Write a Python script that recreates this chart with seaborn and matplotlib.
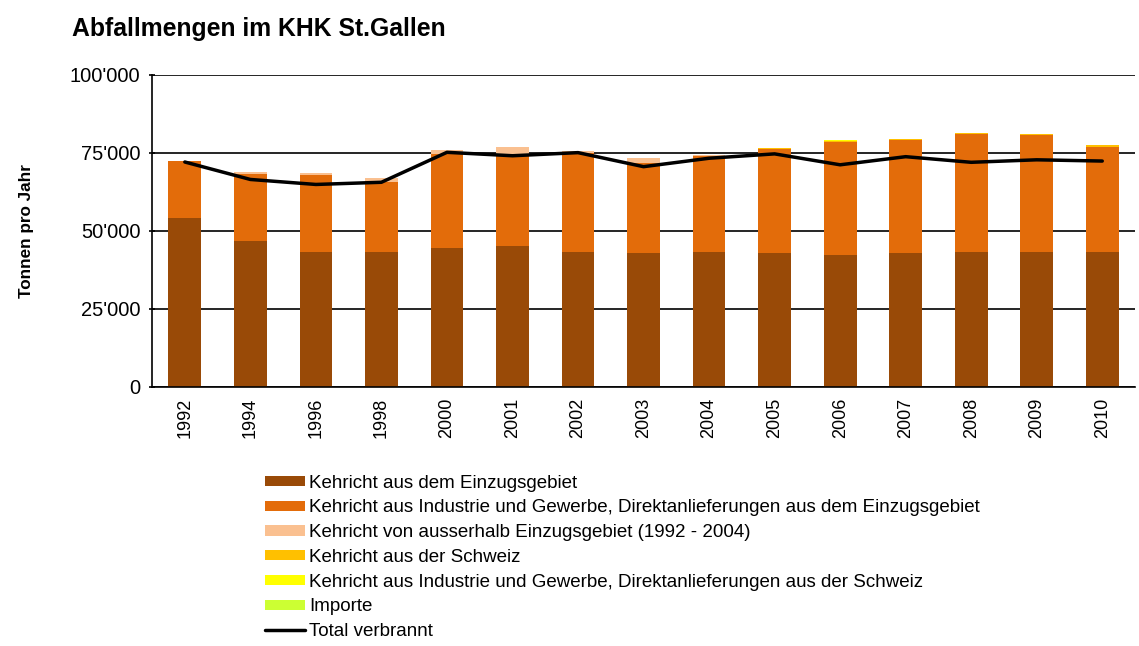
import matplotlib
matplotlib.use("Agg")
import matplotlib.pyplot as plt
import matplotlib.ticker as mticker
from matplotlib.patches import Patch
from matplotlib.lines import Line2D
import numpy as np
import pandas as pd
import seaborn as sns

# data, in tonnes per year
years = ["1992", "1994", "1996", "1998", "2000", "2001", "2002", "2003",
         "2004", "2005", "2006", "2007", "2008", "2009", "2010"]
einzug = [54300, 46900, 43300, 43300, 44600, 45300, 43300, 42800,
          43300, 42800, 42300, 42800, 43300, 43300, 43300]
industrie = [18100, 21400, 24700, 22500, 30100, 28700, 31800, 28900,
             30700, 33400, 36200, 36200, 37700, 37300, 33700]
ausserhalb = [0, 500, 500, 1100, 1300, 3000, 400, 1700,
              400, 0, 0, 0, 0, 0, 0]
schweiz = [0, 0, 0, 0, 0, 0, 0, 0, 0, 400, 400, 350, 350, 350, 400]
industrie_ch = [0, 0, 0, 0, 0, 0, 0, 0, 0, 100, 100, 150, 150, 150, 150]
importe = [0] * 15
total = [72100, 66500, 64900, 65600, 75200, 74100, 75100, 70600,
         73300, 74700, 71200, 73800, 72000, 72800, 72400]

labels = ["Kehricht aus dem Einzugsgebiet",
          "Kehricht aus Industrie und Gewerbe, Direktanlieferungen aus dem Einzugsgebiet",
          "Kehricht von ausserhalb Einzugsgebiet (1992 - 2004)",
          "Kehricht aus der Schweiz",
          "Kehricht aus Industrie und Gewerbe, Direktanlieferungen aus der Schweiz",
          "Importe"]
colors = ["#994A07", "#E36C0A", "#FAC090", "#FFC000", "#FFFF00", "#CCFF33"]

layers = [einzug, industrie, ausserhalb, schweiz, industrie_ch, importe]
cum = np.cumsum(np.array(layers, dtype=float), axis=0)

sns.set_style("white")
plt.rcParams["font.family"] = ["Liberation Sans", "DejaVu Sans"]
plt.rcParams["text.color"] = "black"
plt.rcParams["xtick.color"] = "black"
plt.rcParams["ytick.color"] = "black"
plt.rcParams["axes.labelcolor"] = "black"

fig = plt.figure(figsize=(11.39, 6.46), dpi=100)
ax = fig.add_axes([0.1335, 0.401, 0.863, 0.483])

# stacked bars: draw the cumulative heights from the top layer down
for i in range(len(layers) - 1, -1, -1):
    df = pd.DataFrame({"year": years, "value": cum[i]})
    sns.barplot(data=df, x="year", y="value", color=colors[i], width=0.5,
                saturation=1, linewidth=0, ax=ax, zorder=2)

line_df = pd.DataFrame({"year": years, "total": total})
sns.lineplot(data=line_df, x="year", y="total", color="black", linewidth=2.5,
             ax=ax, zorder=4)

ax.set_ylim(0, 100000)
ax.set_xlim(-0.5, len(years) - 0.5)
ax.yaxis.set_major_locator(mticker.MultipleLocator(25000))
ax.yaxis.set_major_formatter(
    mticker.FuncFormatter(lambda v, p: f"{int(v):,}".replace(",", "'")))
ax.grid(axis="y", color="black", linewidth=1.2, zorder=1)
ax.set_axisbelow(True)

for s in ["top", "right"]:
    ax.spines[s].set_visible(False)
ax.spines["left"].set_color("black")
ax.spines["bottom"].set_color("black")
ax.spines["left"].set_linewidth(1.2)
ax.spines["bottom"].set_linewidth(1.2)

# x ticks between the categories, labels at category centres
ax.set_xticks(np.arange(len(years)))
ax.set_xticklabels(years, rotation=90, fontsize=13)
ax.set_xticks(np.arange(-0.5, len(years)), minor=True)
ax.tick_params(axis="x", which="major", length=0, pad=8)
ax.tick_params(axis="x", which="minor", length=7, width=1.2, color="black",
               direction="out")
ax.tick_params(axis="y", length=5, width=1.2, color="black", direction="inout",
               labelsize=14.5, pad=6, left=True)

ax.set_xlabel("")
ax.set_ylabel("Tonnen pro Jahr", fontsize=12.3, fontweight="bold", labelpad=26)

fig.text(0.063, 0.955, "Abfallmengen im KHK St.Gallen", fontsize=17.8,
         fontweight="bold", va="center", ha="left")

handles = [Patch(facecolor=c, edgecolor="none") for c in colors]
handles.append(Line2D([0], [0], color="black", linewidth=2.5))
leg = fig.legend(handles, labels + ["Total verbrannt"], loc="upper left",
                 bbox_to_anchor=(0.233, 0.265), frameon=False, fontsize=13.5,
                 handlelength=2.1, handleheight=0.45, handletextpad=0.25,
                 labelspacing=0.41, borderpad=0, borderaxespad=0)

fig.savefig("out.png", dpi=100)
